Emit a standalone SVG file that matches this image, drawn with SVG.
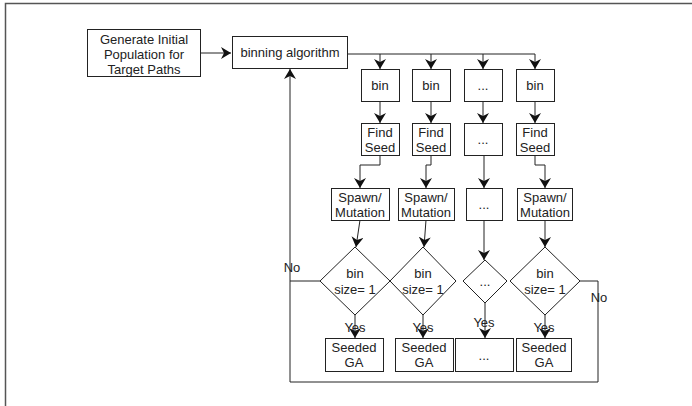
<svg xmlns="http://www.w3.org/2000/svg" width="692" height="406" viewBox="0 0 692 406">
<style>
.box{fill:#fff;stroke:#222;stroke-width:1}
.t{font-family:"Liberation Sans",Arial,sans-serif;font-size:13px;fill:#222;text-anchor:middle}
.c{fill:none;stroke:#222;stroke-width:1}
</style>
<defs>
<marker id="ah" markerUnits="userSpaceOnUse" markerWidth="10" markerHeight="12" viewBox="0 0 10 12" refX="10" refY="6" orient="auto">
<path d="M0,0 L10,6 L0,12 L3,6 Z" fill="#111"/>
</marker>
</defs>
<rect width="692" height="406" fill="#fff"/>
<g id="frame"><path d="M5.5,406 V3.5 H692" fill="none" stroke="#555" stroke-width="1.5"/></g>

<g id="connectors">
<path class="c" d="M200,53 H231" marker-end="url(#ah)"/>
<path class="c" d="M348,54 H535" stroke-width="2"/>
<path class="c" d="M380,54 V69" marker-end="url(#ah)"/>
<path class="c" d="M431,54 V69" marker-end="url(#ah)"/>
<path class="c" d="M483,54 V69" marker-end="url(#ah)"/>
<path class="c" d="M535,54 V69" marker-end="url(#ah)"/>
<path class="c" d="M380,102 V123" marker-end="url(#ah)"/>
<path class="c" d="M431,102 V123" marker-end="url(#ah)"/>
<path class="c" d="M483,102 V123" marker-end="url(#ah)"/>
<path class="c" d="M535,102 V123" marker-end="url(#ah)"/>
<path class="c" d="M380,156 V165 H360 V188" marker-end="url(#ah)"/>
<path class="c" d="M431,156 V165 H426 V188" marker-end="url(#ah)"/>
<path class="c" d="M484,156 V188" marker-end="url(#ah)"/>
<path class="c" d="M535,156 V165 H545 V188" marker-end="url(#ah)"/>
<path class="c" d="M360,220 L356,247" marker-end="url(#ah)"/>
<path class="c" d="M426,220 L424,247" marker-end="url(#ah)"/>
<path class="c" d="M484,220 V260" marker-end="url(#ah)"/>
<path class="c" d="M545,220 V247" marker-end="url(#ah)"/>
<path class="c" d="M355,315 V338" marker-end="url(#ah)"/>
<path class="c" d="M423,315 V338" marker-end="url(#ah)"/>
<path class="c" d="M485,303 V338" marker-end="url(#ah)"/>
<path class="c" d="M545,315 V338" marker-end="url(#ah)"/>
<path class="c" d="M580,281 H598 V382 H290 V69" marker-end="url(#ah)"/>
<path class="c" d="M320,281 H290"/>
<text class="t" x="292" y="272">No</text>
<text class="t" x="599" y="302">No</text>
<text class="t" x="355" y="332">Yes</text>
<text class="t" x="423" y="332">Yes</text>
<text class="t" x="484" y="327">Yes</text>
<text class="t" x="544" y="332">Yes</text>
</g>

<g id="generate"><rect class="box" x="87.5" y="29.5" width="113" height="47"/>
<text class="t" x="144" y="44">Generate Initial</text><text class="t" x="144" y="59">Population for</text><text class="t" x="144" y="74">Target Paths</text></g>
<g id="binning"><rect class="box" x="232.5" y="36.5" width="115" height="32"/><text class="t" x="290" y="57">binning algorithm</text></g>

<g id="bin1"><rect class="box" x="361.5" y="69.5" width="38" height="32"/><text class="t" x="380" y="90">bin</text></g>
<g id="bin2"><rect class="box" x="412.5" y="69.5" width="38" height="32"/><text class="t" x="431" y="90">bin</text></g>
<g id="bin3"><rect class="box" x="464.5" y="69.5" width="38" height="32"/><text class="t" x="483" y="90">...</text></g>
<g id="bin4"><rect class="box" x="516.5" y="69.5" width="38" height="32"/><text class="t" x="535" y="90">bin</text></g>

<g id="seed1"><rect class="box" x="361.5" y="123.5" width="38" height="32"/><text class="t" x="380" y="137">Find</text><text class="t" x="380" y="152">Seed</text></g>
<g id="seed2"><rect class="box" x="412.5" y="123.5" width="38" height="32"/><text class="t" x="431" y="137">Find</text><text class="t" x="431" y="152">Seed</text></g>
<g id="seed3"><rect class="box" x="464.5" y="123.5" width="38" height="32"/><text class="t" x="483" y="144">...</text></g>
<g id="seed4"><rect class="box" x="516.5" y="123.5" width="38" height="32"/><text class="t" x="535" y="137">Find</text><text class="t" x="535" y="152">Seed</text></g>

<g id="spawn1"><rect class="box" x="331.5" y="188.5" width="58" height="32"/><text class="t" x="360" y="202">Spawn/</text><text class="t" x="360" y="217">Mutation</text></g>
<g id="spawn2"><rect class="box" x="398.5" y="188.5" width="56" height="32"/><text class="t" x="426" y="202">Spawn/</text><text class="t" x="426" y="217">Mutation</text></g>
<g id="spawn3"><rect class="box" x="466.5" y="188.5" width="36" height="32"/><text class="t" x="484" y="209">...</text></g>
<g id="spawn4"><rect class="box" x="517.5" y="188.5" width="55" height="32"/><text class="t" x="545" y="202">Spawn/</text><text class="t" x="545" y="217">Mutation</text></g>

<g id="dec1"><polygon class="box" points="355,247 390,281 355,315 320,281"/><text class="t" x="355" y="278">bin</text><text class="t" x="355" y="294">size= 1</text></g>
<g id="dec2"><polygon class="box" points="423,247 456,281 423,315 390,281"/><text class="t" x="423" y="278">bin</text><text class="t" x="423" y="294">size= 1</text></g>
<g id="dec3"><polygon class="box" points="485,260 507,281 485,303 463,281"/><text class="t" x="485" y="286">...</text></g>
<g id="dec4"><polygon class="box" points="545,247 580,281 545,315 510,281"/><text class="t" x="545" y="278">bin</text><text class="t" x="545" y="294">size= 1</text></g>

<g id="ga1"><rect class="box" x="325.5" y="338.5" width="58" height="33"/><text class="t" x="354" y="352">Seeded</text><text class="t" x="354" y="367">GA</text></g>
<g id="ga2"><rect class="box" x="395.5" y="338.5" width="58" height="33"/><text class="t" x="424" y="352">Seeded</text><text class="t" x="424" y="367">GA</text></g>
<g id="ga3"><rect class="box" x="455.5" y="338.5" width="58" height="33"/><text class="t" x="484" y="360">...</text></g>
<g id="ga4"><rect class="box" x="516.5" y="338.5" width="55" height="33"/><text class="t" x="544" y="352">Seeded</text><text class="t" x="544" y="367">GA</text></g>
</svg>
